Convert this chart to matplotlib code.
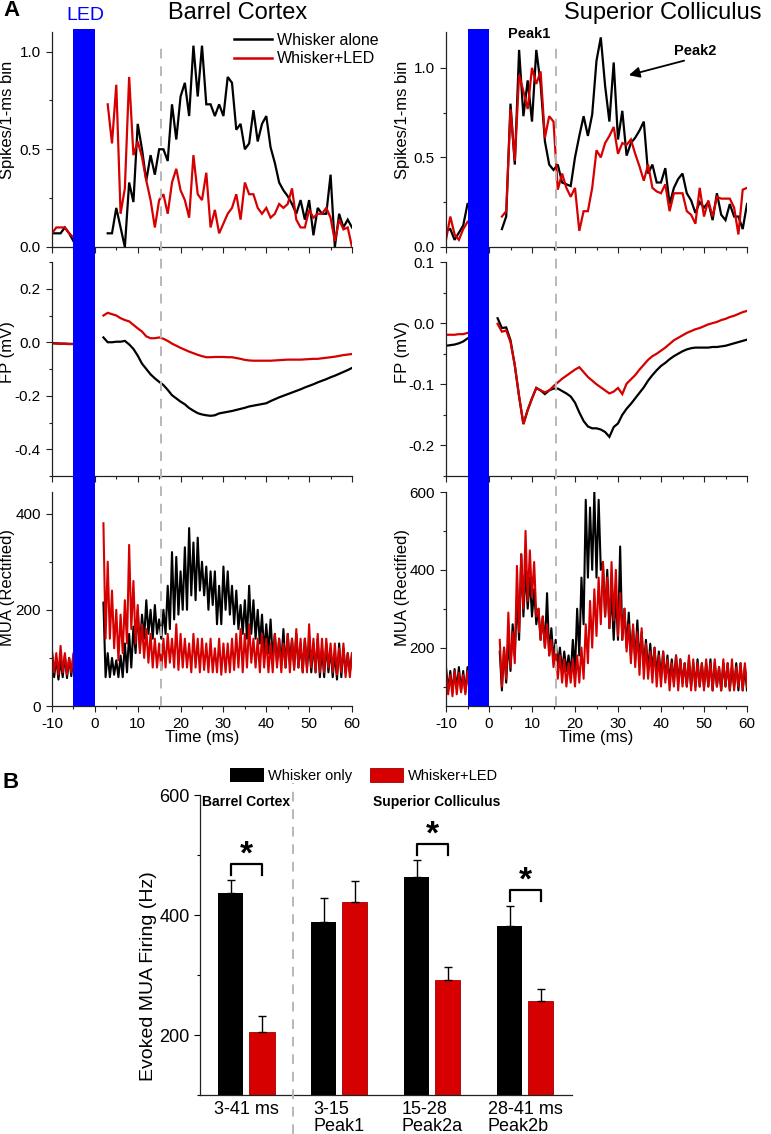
import numpy as np
import matplotlib
matplotlib.use("Agg")
import matplotlib.pyplot as plt
import matplotlib.transforms as mtransforms
from matplotlib.patches import Rectangle, Patch
from matplotlib.lines import Line2D
from matplotlib.ticker import MultipleLocator, FormatStrFormatter

plt.rcParams['font.family'] = ['Liberation Sans', 'DejaVu Sans']
plt.rcParams['axes.unicode_minus'] = False

# ---------------- data ----------------
led_window = (-5, 0)
marker_time = 15.5

# Spike histograms (1-ms bins); pre: t=-10..-5, post: t=3..60
bc_spk_pre_black = [0.07, 0.07, 0.07, 0.10, 0.07, 0.03]
bc_spk_pre_red = [0.07, 0.10, 0.10, 0.10, 0.07, 0.05]
bc_spk_post_black = [0.07, 0.07, 0.20, 0.10, 0.00, 0.33, 0.23, 0.63, 0.50, 0.34,
                     0.47, 0.37, 0.50, 0.50, 0.44, 0.73, 0.55, 0.77, 0.84, 0.67,
                     1.03, 0.77, 1.03, 0.73, 0.73, 0.67, 0.73, 0.67, 0.87, 0.84,
                     0.60, 0.63, 0.50, 0.53, 0.70, 0.54, 0.63, 0.67, 0.51, 0.43,
                     0.33, 0.29, 0.26, 0.22, 0.17, 0.24, 0.14, 0.24, 0.06, 0.20,
                     0.17, 0.17, 0.37, 0.00, 0.17, 0.10, 0.14, 0.10]
bc_spk_post_red = [0.73, 0.53, 0.83, 0.17, 0.30, 0.87, 0.47, 0.54, 0.46, 0.34,
                   0.24, 0.10, 0.24, 0.27, 0.17, 0.33, 0.40, 0.29, 0.24, 0.15,
                   0.47, 0.27, 0.24, 0.38, 0.10, 0.19, 0.07, 0.12, 0.17, 0.20,
                   0.27, 0.14, 0.33, 0.27, 0.27, 0.20, 0.17, 0.20, 0.15, 0.17,
                   0.22, 0.20, 0.22, 0.30, 0.14, 0.10, 0.10, 0.19, 0.15, 0.17,
                   0.17, 0.20, 0.15, 0.03, 0.14, 0.09, 0.10, 0.00]
sc_spk_pre_black = [0.09, 0.10, 0.04, 0.08, 0.12, 0.24]
sc_spk_pre_red = [0.04, 0.17, 0.07, 0.04, 0.10, 0.14]
sc_spk_post_black = [0.10, 0.17, 0.80, 0.46, 1.10, 0.73, 0.93, 0.70, 1.10, 0.91,
                     0.59, 0.46, 0.43, 0.46, 0.36, 0.35, 0.34, 0.50, 0.62, 0.73,
                     0.62, 0.74, 1.04, 1.17, 0.90, 0.70, 1.03, 0.60, 0.76, 0.51,
                     0.58, 0.61, 0.65, 0.70, 0.41, 0.46, 0.36, 0.36, 0.44, 0.24,
                     0.33, 0.38, 0.41, 0.30, 0.26, 0.19, 0.25, 0.22, 0.25, 0.15,
                     0.30, 0.18, 0.15, 0.24, 0.17, 0.17, 0.10, 0.24]
sc_spk_post_red = [0.17, 0.20, 0.77, 0.48, 0.96, 0.87, 0.77, 1.00, 0.91, 0.98,
                   0.61, 0.73, 0.70, 0.32, 0.41, 0.33, 0.28, 0.33, 0.09, 0.20,
                   0.20, 0.33, 0.54, 0.50, 0.58, 0.62, 0.67, 0.52, 0.58, 0.57,
                   0.60, 0.52, 0.45, 0.37, 0.46, 0.33, 0.31, 0.30, 0.35, 0.20,
                   0.30, 0.30, 0.30, 0.20, 0.18, 0.13, 0.33, 0.17, 0.26, 0.17,
                   0.28, 0.27, 0.27, 0.27, 0.22, 0.07, 0.32, 0.33]

# Field potential (mV); pre: t=-10..-5, post: t=2..60
bc_fp_pre_black = [-0.003, -0.004, -0.005, -0.005, -0.006, -0.006]
bc_fp_pre_red = [-0.004, -0.005, -0.006, -0.006, -0.007, -0.007]
bc_fp_post_black = [0.018, 0.0, 0.0, 0.002, 0.002, 0.005, -0.008, -0.025, -0.05, -0.08,
                    -0.10, -0.12, -0.135, -0.148, -0.16, -0.178, -0.198, -0.21, -0.222, -0.232,
                    -0.246, -0.256, -0.265, -0.27, -0.273, -0.275, -0.273, -0.266, -0.263, -0.26,
                    -0.257, -0.253, -0.249, -0.245, -0.24, -0.237, -0.234, -0.231, -0.228, -0.22,
                    -0.213, -0.206, -0.2, -0.194, -0.188, -0.182, -0.176, -0.169, -0.163, -0.157,
                    -0.15, -0.144, -0.138, -0.131, -0.125, -0.118, -0.111, -0.104, -0.096]
bc_fp_post_red = [0.10, 0.11, 0.105, 0.10, 0.09, 0.083, 0.078, 0.065, 0.052, 0.04,
                  0.022, 0.015, 0.015, 0.018, 0.013, 0.005, -0.005, -0.013, -0.021, -0.028,
                  -0.035, -0.041, -0.047, -0.052, -0.056, -0.056, -0.055, -0.055, -0.055, -0.056,
                  -0.056, -0.059, -0.062, -0.066, -0.068, -0.069, -0.069, -0.069, -0.069, -0.069,
                  -0.068, -0.067, -0.066, -0.065, -0.065, -0.065, -0.065, -0.064, -0.063, -0.062,
                  -0.062, -0.06, -0.058, -0.056, -0.054, -0.051, -0.048, -0.046, -0.044]
sc_fp_pre_black = [-0.037, -0.036, -0.035, -0.033, -0.030, -0.025]
sc_fp_pre_red = [-0.019, -0.019, -0.019, -0.018, -0.018, -0.016]
sc_fp_post_black = [0.008, -0.008, -0.007, -0.028, -0.069, -0.12, -0.165, -0.142, -0.123, -0.106,
                    -0.11, -0.116, -0.11, -0.107, -0.107, -0.111, -0.115, -0.12, -0.13, -0.146,
                    -0.16, -0.169, -0.172, -0.172, -0.174, -0.178, -0.186, -0.17, -0.164, -0.15,
                    -0.14, -0.132, -0.123, -0.114, -0.105, -0.094, -0.085, -0.077, -0.07, -0.065,
                    -0.059, -0.054, -0.05, -0.046, -0.043, -0.041, -0.04, -0.04, -0.04, -0.04,
                    -0.039, -0.039, -0.038, -0.037, -0.035, -0.033, -0.031, -0.029, -0.027]
sc_fp_post_red = [-0.001, -0.014, -0.012, -0.031, -0.069, -0.12, -0.165, -0.142, -0.123, -0.106,
                  -0.11, -0.113, -0.11, -0.103, -0.097, -0.091, -0.086, -0.081, -0.076, -0.072,
                  -0.08, -0.088, -0.094, -0.1, -0.105, -0.11, -0.115, -0.112, -0.106, -0.116,
                  -0.099, -0.092, -0.085, -0.076, -0.068, -0.06, -0.054, -0.05, -0.045, -0.04,
                  -0.034, -0.028, -0.024, -0.02, -0.016, -0.013, -0.01, -0.008, -0.005, -0.002,
                  0.0, 0.002, 0.005, 0.007, 0.01, 0.012, 0.015, 0.018, 0.02]

# Rectified MUA, upper / lower envelope read per ms
bc_mua_pre_black_hi = [110, 100, 95, 105, 100, 105]
bc_mua_pre_black_lo = [60, 55, 60, 58, 62, 60]
bc_mua_pre_red_hi = [115, 110, 125, 110, 100, 110]
bc_mua_pre_red_lo = [70, 65, 70, 65, 70, 65]
bc_mua_post_black_hi = [215, 110, 100, 95, 105, 130, 150, 165, 200, 190,
                        220, 200, 210, 180, 200, 250, 320, 310, 280, 330,
                        370, 340, 350, 300, 290, 280, 280, 250, 290, 280,
                        250, 240, 210, 220, 250, 220, 200, 190, 170, 180,
                        150, 140, 160, 150, 140, 150, 130, 140, 130, 130,
                        140, 120, 130, 120, 110, 130, 120, 110, 110]
bc_mua_post_black_lo = [60, 60, 65, 60, 60, 70, 80, 110, 120, 140,
                        150, 140, 150, 140, 150, 160, 180, 190, 200, 200,
                        230, 220, 240, 230, 200, 210, 170, 170, 200, 190,
                        170, 160, 150, 140, 150, 140, 130, 110, 110, 100,
                        90, 90, 80, 90, 80, 80, 70, 80, 70, 70,
                        60, 60, 70, 60, 55, 60, 70, 70, 70]
bc_mua_post_red_hi = [380, 300, 240, 200, 190, 220, 335, 260, 210, 170,
                      160, 150, 140, 130, 140, 150, 140, 170, 150, 140,
                      130, 150, 140, 140, 130, 140, 120, 140, 130, 130,
                      140, 150, 160, 150, 170, 140, 140, 150, 140, 130,
                      150, 140, 130, 150, 140, 160, 140, 140, 170, 140,
                      150, 140, 140, 130, 130, 120, 130, 110, 110]
bc_mua_post_red_lo = [140, 140, 120, 95, 110, 130, 160, 130, 110, 100,
                      90, 80, 80, 75, 80, 90, 80, 75, 80, 80,
                      70, 80, 70, 75, 70, 70, 70, 65, 70, 70,
                      75, 80, 70, 80, 90, 80, 70, 80, 70, 70,
                      80, 70, 80, 70, 75, 80, 70, 70, 80, 70,
                      70, 70, 80, 70, 65, 70, 60, 60, 60]
sc_mua_pre_black_hi = [150, 140, 145, 150, 140, 150]
sc_mua_pre_black_lo = [90, 85, 95, 90, 85, 90]
sc_mua_pre_red_hi = [140, 130, 140, 135, 130, 140]
sc_mua_pre_red_lo = [80, 75, 80, 85, 80, 80]
sc_mua_post_black_hi = [190, 200, 220, 260, 330, 440, 400, 380, 350, 300,
                        280, 340, 250, 220, 200, 190, 180, 220, 300, 380,
                        580, 560, 600, 580, 420, 400, 340, 340, 460, 300,
                        290, 250, 270, 240, 220, 210, 200, 190, 190, 180,
                        170, 180, 170, 160, 170, 160, 170, 160, 160, 170,
                        160, 150, 160, 160, 150, 160, 160, 150]
sc_mua_post_black_lo = [90, 110, 140, 180, 220, 280, 300, 280, 260, 220,
                        200, 180, 170, 150, 140, 140, 130, 140, 180, 260,
                        380, 400, 380, 400, 280, 250, 220, 220, 220, 200,
                        180, 170, 160, 150, 140, 140, 130, 120, 120, 110,
                        110, 110, 110, 100, 100, 100, 100, 100, 100, 90,
                        100, 90, 100, 90, 100, 90, 90, 90]
sc_mua_post_red_hi = [220, 200, 290, 240, 410, 440, 500, 450, 420, 300,
                      280, 260, 220, 200, 180, 170, 160, 170, 180, 200,
                      260, 320, 350, 380, 420, 380, 420, 400, 340, 300,
                      260, 260, 240, 250, 210, 190, 200, 180, 190, 170,
                      160, 180, 170, 160, 180, 170, 160, 160, 170, 160,
                      170, 150, 170, 160, 170, 150, 160, 160]
sc_mua_post_red_lo = [100, 120, 150, 160, 240, 300, 320, 330, 280, 220,
                      200, 180, 150, 120, 110, 100, 110, 100, 110, 120,
                      160, 200, 230, 260, 280, 250, 270, 230, 220, 190,
                      160, 150, 130, 120, 120, 110, 100, 100, 110, 90,
                      100, 90, 100, 100, 90, 90, 100, 90, 100, 90,
                      100, 90, 100, 90, 90, 100, 90, 100]

# Panel B
bar_groups = ['3-41 ms', '3-15\nPeak1', '15-28\nPeak2a', '28-41 ms\nPeak2b']
whisker_only = [437, 388, 463, 382]
whisker_only_err = [21, 40, 28, 33]
whisker_led = [205, 422, 292, 257]
whisker_led_err = [27, 35, 22, 20]
significant = [True, False, True, True]

# ---------------- styling ----------------
W, H = 771, 1134
RED = '#d60000'
BLUE = '#0000ff'
GRAY = '#b8b8b8'

fig = plt.figure(figsize=(W / 100, H / 100), dpi=100)


def ax_px(x0, y0, x1, y1):
    return fig.add_axes([x0 / W, 1 - y1 / H, (x1 - x0) / W, (y1 - y0) / H])


def style(ax, show_xlabels):
    for s in ('top', 'right'):
        ax.spines[s].set_visible(False)
    for s in ('left', 'bottom'):
        ax.spines[s].set_linewidth(0.9)
        ax.spines[s].set_color('#222222')
    ax.set_xlim(-10, 60)
    ax.xaxis.set_major_locator(MultipleLocator(10))
    ax.xaxis.set_minor_locator(MultipleLocator(5))
    ax.tick_params(which='major', direction='out', length=4.5, width=0.8, labelsize=11, colors='#222222')
    ax.tick_params(which='minor', direction='out', length=2.5, width=0.8, colors='#222222')
    ax.tick_params(axis='both', labelcolor='black')
    if not show_xlabels:
        ax.tick_params(axis='x', labelbottom=False)
    else:
        ax.set_xlabel('Time (ms)', fontsize=12, va='top')
        ax.xaxis.set_label_coords(0.5, -0.112)


def trace(ax, t0, vals, color, lw):
    t = t0 + np.arange(len(vals))
    ax.plot(t, vals, color=color, lw=lw, solid_joinstyle='miter')


def zigzag(ax, t0, hi, lo, color, lw=1.5):
    n = len(hi)
    t = t0 + np.arange(n)
    x = np.empty(2 * n)
    y = np.empty(2 * n)
    x[0::2] = t
    x[1::2] = t + 0.5
    y[0::2] = hi
    y[1::2] = lo
    ax.plot(x, y, color=color, lw=lw)


# --- axes ---
ax_bc_spk = ax_px(52, 32, 352, 247)
ax_bc_fp = ax_px(52, 262, 352, 476)
ax_bc_mua = ax_px(52, 492, 352, 706)
ax_sc_spk = ax_px(446, 32, 747, 247)
ax_sc_fp = ax_px(446, 262, 747, 476)
ax_sc_mua = ax_px(446, 492, 747, 706)

# spikes
for ax, pb, pr, qb, qr in [(ax_bc_spk, bc_spk_pre_black, bc_spk_pre_red, bc_spk_post_black, bc_spk_post_red),
                            (ax_sc_spk, sc_spk_pre_black, sc_spk_pre_red, sc_spk_post_black, sc_spk_post_red)]:
    trace(ax, -10, pb, 'black', 1.6)
    trace(ax, 3, qb, 'black', 1.6)
    trace(ax, -10, pr, RED, 1.6)
    trace(ax, 3, qr, RED, 1.6)
    style(ax, False)
    ax.yaxis.set_major_locator(MultipleLocator(0.5))
    ax.yaxis.set_minor_locator(MultipleLocator(0.25))
    ax.yaxis.set_major_formatter(FormatStrFormatter('%.1f'))
    ax.set_ylabel('Spikes/1-ms bin', fontsize=12)
ax_bc_spk.set_ylim(0, 1.1)
ax_sc_spk.set_ylim(0, 1.2)

# FP
for ax, pb, pr, qb, qr in [(ax_bc_fp, bc_fp_pre_black, bc_fp_pre_red, bc_fp_post_black, bc_fp_post_red),
                            (ax_sc_fp, sc_fp_pre_black, sc_fp_pre_red, sc_fp_post_black, sc_fp_post_red)]:
    trace(ax, -10, pb, 'black', 1.6)
    trace(ax, 2, qb, 'black', 1.6)
    trace(ax, -10, pr, RED, 1.6)
    trace(ax, 2, qr, RED, 1.6)
    style(ax, False)
    ax.yaxis.set_major_formatter(FormatStrFormatter('%.1f'))
    ax.set_ylabel('FP (mV)', fontsize=12)
ax_bc_fp.set_ylim(-0.5, 0.3)
ax_bc_fp.yaxis.set_major_locator(MultipleLocator(0.2))
ax_bc_fp.yaxis.set_minor_locator(MultipleLocator(0.1))
ax_sc_fp.set_ylim(-0.25, 0.1)
ax_sc_fp.yaxis.set_major_locator(MultipleLocator(0.1))
ax_sc_fp.yaxis.set_minor_locator(MultipleLocator(0.05))

# MUA
zigzag(ax_bc_mua, -10, bc_mua_pre_black_hi, bc_mua_pre_black_lo, 'black')
zigzag(ax_bc_mua, 2, bc_mua_post_black_hi, bc_mua_post_black_lo, 'black')
zigzag(ax_bc_mua, -10, bc_mua_pre_red_hi, bc_mua_pre_red_lo, RED)
zigzag(ax_bc_mua, 2, bc_mua_post_red_hi, bc_mua_post_red_lo, RED)
zigzag(ax_sc_mua, -10, sc_mua_pre_black_hi, sc_mua_pre_black_lo, 'black')
zigzag(ax_sc_mua, 2.5, sc_mua_post_black_hi, sc_mua_post_black_lo, 'black')
zigzag(ax_sc_mua, -10, sc_mua_pre_red_hi, sc_mua_pre_red_lo, RED)
zigzag(ax_sc_mua, 2.5, sc_mua_post_red_hi, sc_mua_post_red_lo, RED)
for ax in (ax_bc_mua, ax_sc_mua):
    style(ax, True)
    ax.yaxis.set_major_locator(MultipleLocator(200))
    ax.yaxis.set_minor_locator(MultipleLocator(100))
    ax.set_ylabel('MUA (Rectified)', fontsize=12)
ax_bc_mua.set_ylim(0, 445)
ax_sc_mua.set_ylim(50, 600)

for ax, yc in ((ax_bc_spk, 0.59), (ax_bc_fp, 0.58), (ax_bc_mua, 0.556)):
    ax.yaxis.set_label_coords(-0.123, yc)
for ax, yc in ((ax_sc_spk, 0.59), (ax_sc_fp, 0.58), (ax_sc_mua, 0.556)):
    ax.yaxis.set_label_coords(-0.12, yc)

# legend top-left
handles = [Line2D([], [], color='black', lw=1.8), Line2D([], [], color=RED, lw=1.8)]
ax_bc_spk.legend(handles, ['Whisker alone', 'Whisker+LED'], loc='upper left',
                 bbox_to_anchor=(234 / W, 1 - 33 / H), bbox_transform=fig.transFigure,
                 frameon=False, fontsize=11.5, handlelength=2.4, handletextpad=0.3,
                 borderpad=0, borderaxespad=0, labelspacing=0.2)

# Peak annotations
ax_sc_spk.text(9.3, 1.19, 'Peak1', fontsize=10.5, fontweight='bold', ha='center', va='center')
ax_sc_spk.text(48, 1.094, 'Peak2', fontsize=10.5, fontweight='bold', ha='center', va='center')
ax_sc_spk.annotate('', xy=(31.9, 0.955), xytext=(46, 1.044),
                   arrowprops=dict(arrowstyle='-|>', color='black', lw=1.3, mutation_scale=16))

# LED bars and marker lines spanning the column
for ax_ref in (ax_bc_mua, ax_sc_mua):
    tr = mtransforms.blended_transform_factory(ax_ref.transData, fig.transFigure)
    fig.add_artist(Rectangle((led_window[0], 1 - 706 / H), led_window[1] - led_window[0],
                             (706 - 29) / H, transform=tr, facecolor=BLUE, edgecolor='none', zorder=5))
    fig.add_artist(Line2D([marker_time, marker_time], [1 - 706 / H, 1 - 48 / H], transform=tr,
                          color=GRAY, lw=1.4, ls=(0, (5, 4)), zorder=4))

# figure texts
fig.text(238 / W, 1 - 13 / H, 'Barrel Cortex', fontsize=17, ha='center', va='center')
fig.text(663 / W, 1 - 13 / H, 'Superior Colliculus', fontsize=17, ha='center', va='center')
fig.text(3 / W, 1 - 10 / H, 'A', fontsize=16, fontweight='bold', ha='left', va='center')
fig.text(85 / W, 1 - 15 / H, 'LED', fontsize=14, color=BLUE, ha='center', va='center')
fig.text(3 / W, 1 - 782 / H, 'B', fontsize=16, fontweight='bold', ha='left', va='center')

# ---------------- Panel B ----------------
ax_bar = ax_px(200, 795, 571.7, 1095)
x = np.arange(len(bar_groups))
off = 0.167
bw = 0.27
ax_bar.bar(x - off, whisker_only, width=bw, color='black', bottom=0)
ax_bar.bar(x + off, whisker_led, width=bw, color=RED, edgecolor='#a00000', linewidth=0.6)
ax_bar.errorbar(x - off, whisker_only, yerr=[np.zeros(len(x)), whisker_only_err], fmt='none',
                ecolor='black', elinewidth=1.0, capsize=3, capthick=1.0)
ax_bar.errorbar(x + off, whisker_led, yerr=[np.zeros(len(x)), whisker_led_err], fmt='none',
                ecolor='black', elinewidth=1.0, capsize=3, capthick=1.0)
ax_bar.set_xlim(-0.5, 3.5)
ax_bar.set_ylim(100, 600)
for s in ('top', 'right'):
    ax_bar.spines[s].set_visible(False)
for s in ('left', 'bottom'):
    ax_bar.spines[s].set_linewidth(0.9)
    ax_bar.spines[s].set_color('#222222')
ax_bar.yaxis.set_major_locator(MultipleLocator(200))
ax_bar.yaxis.set_minor_locator(MultipleLocator(100))
ax_bar.set_yticks([200, 400, 600])
ax_bar.tick_params(axis='y', which='major', direction='out', length=4, width=0.8, labelsize=13)
ax_bar.tick_params(axis='y', which='minor', direction='out', length=2.5, width=0.8)
ax_bar.set_xticks(x)
ax_bar.set_xticklabels(bar_groups, fontsize=13, multialignment='left', linespacing=1.0)
ax_bar.tick_params(axis='x', length=0, pad=4)
ax_bar.set_ylabel('Evoked MUA Firing (Hz)', fontsize=14)
ax_bar.yaxis.set_label_coords(-0.116, 0.397)

for i in range(len(x)):
    if significant[i]:
        top = max(whisker_only[i] + whisker_only_err[i], whisker_led[i] + whisker_led_err[i]) + 27
        leg = top - 18
        ax_bar.plot([i - off, i - off, i + off, i + off], [leg, top, top, leg], color='black', lw=1.6)
        ax_bar.text(i, top + 1, '*', fontsize=24, fontweight='bold', ha='center', va='baseline')

trb = mtransforms.blended_transform_factory(ax_bar.transData, ax_bar.transAxes)
ax_bar.text(0, 0.977, 'Barrel Cortex', transform=trb, fontsize=10, fontweight='bold', ha='center', va='center')
ax_bar.text(2.05, 0.977, 'Superior Colliculus', transform=trb, fontsize=10, fontweight='bold', ha='center', va='center')

trf = mtransforms.blended_transform_factory(ax_bar.transData, fig.transFigure)
fig.add_artist(Line2D([0.5, 0.5], [0, 1 - 783 / H], transform=trf, color=GRAY, lw=1.4, ls=(0, (5, 4))))

fig.legend([Patch(facecolor='black'), Patch(facecolor=RED, edgecolor='#a00000', linewidth=0.6)],
           ['Whisker only', 'Whisker+LED'], loc='upper left', ncol=2,
           bbox_to_anchor=(230 / W, 1 - 768 / H), frameon=False, fontsize=10.5,
           handlelength=2.3, handleheight=1.1, handletextpad=0.3, columnspacing=1.2,
           borderpad=0, borderaxespad=0)

fig.savefig('out.png', dpi=100)
